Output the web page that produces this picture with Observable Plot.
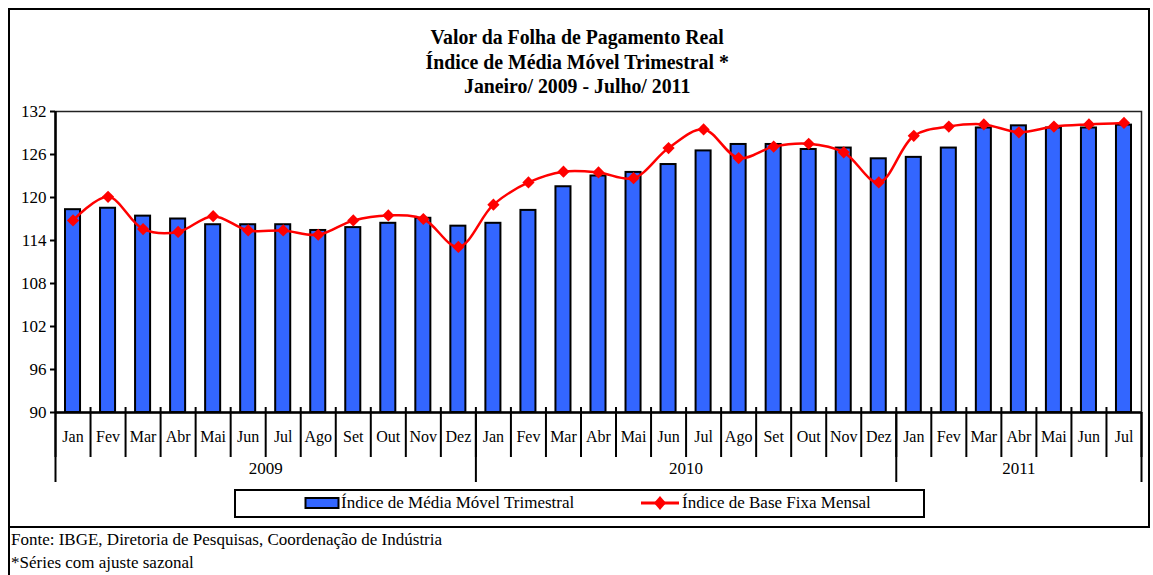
<!DOCTYPE html>
<html>
<head>
<meta charset="utf-8">
<script src="https://cdn.jsdelivr.net/npm/d3@7"></script>
<script src="https://cdn.jsdelivr.net/npm/@observablehq/plot@0.6"></script>
<style>
  html, body { margin: 0; padding: 0; background: #fff; }
  #wrap { position: relative; width: 1153px; height: 575px; overflow: hidden; font-family: "Liberation Serif", "Times New Roman", serif; color: #000; }
  #wrap svg.plot { position: absolute; left: 0; top: 0; }
  .frame { position: absolute; left: 8px; top: 8px; width: 1138px; height: 516px; border: 2px solid #000; }
  .leftline { position: absolute; left: 8px; top: 526px; width: 2px; height: 49px; background: #000; }
  .title { position: absolute; left: 0; width: 1153px; top: 25px; text-align: center; font-weight: bold; font-size: 22px; line-height: 24.5px; transform: scaleX(0.9); transform-origin: 583px 0; }
  .legend { position: absolute; left: 234px; top: 489px; width: 687px; height: 25px; border: 2px solid #000; background: #fff; font-size: 17px; }
  .legend .item { position: absolute; top: 2px; display: flex; align-items: center; white-space: nowrap; }
  .foot { position: absolute; left: 11px; font-size: 17px; white-space: nowrap; }
</style>
</head>
<body>
<div id="wrap">
  <div class="frame"></div>
  <div class="leftline"></div>
  <div class="title">Valor da Folha de Pagamento Real<br>Índice de Média Móvel Trimestral *<br>Janeiro/ 2009 - Julho/ 2011</div>
  <div class="legend">
    <div class="item" style="left:68px;"><svg width="36" height="14" style="margin-right:1px"><rect x="1.5" y="2" width="33" height="10" fill="#3366ff" stroke="#000" stroke-width="2"/></svg>Índice de Média Móvel Trimestral</div>
    <div class="item" style="left:404px;"><svg width="40" height="16" style="margin-right:2px"><line x1="1" y1="8" x2="39" y2="8" stroke="#ff0000" stroke-width="3"/><path d="M20,1 L26,8 L20,15 L14,8 Z" fill="#ff0000"/></svg>Índice de Base Fixa Mensal</div>
  </div>
  <div class="foot" style="top:530px;">Fonte: IBGE, Diretoria de Pesquisas, Coordenação de Indústria</div>
  <div class="foot" style="top:553px;">*Séries com ajuste sazonal</div>
</div>
<script>
const months = ["Jan","Fev","Mar","Abr","Mai","Jun","Jul","Ago","Set","Out","Nov","Dez"];
const years = ["2009","2010","2011"];
const yTicks = [90, 96, 102, 108, 114, 120, 126, 132];

// Índice de Média Móvel Trimestral (bars)
const mediaMovel = [
  118.3, 118.5, 117.4, 117.0, 116.2, 116.2, 116.2, 115.4, 115.8, 116.4, 117.1, 116.0,
  116.4, 118.2, 121.5, 123.0, 123.5, 124.6, 126.5, 127.4, 127.4, 126.7, 126.9, 125.4,
  125.6, 126.9, 129.7, 130.0, 129.7, 129.7, 130.1
];
// Índice de Base Fixa Mensal (line)
const baseFixa = [
  116.8, 120.1, 115.6, 115.2, 117.4, 115.4, 115.4, 114.8, 116.8, 117.5, 117.0, 113.1,
  119.0, 122.1, 123.6, 123.5, 122.7, 126.9, 129.5, 125.5, 127.1, 127.5, 126.3, 122.1,
  128.6, 129.9, 130.2, 129.1, 129.9, 130.2, 130.4
];

const data = mediaMovel.map((v, i) => ({
  i, month: months[i % 12], year: years[Math.floor(i / 12)], mm: v, bf: baseFixa[i]
}));
const n = data.length;
const bounds = d3.range(0, n + 1);
const yearBounds = years.map(y => data.find(d => d.year === y).i).concat([n]);
const yearCenters = years.map((y, k) => (yearBounds[k] + yearBounds[k + 1]) / 2);
const centers = data.map(d => d.i + 0.5);

const W = 1153, H = 575, mL = 55, mR = 12, mT = 111, mB = 163;
const innerH = H - mT - mB;

const chart = Plot.plot({
  width: W, height: H,
  marginLeft: mL, marginRight: mR, marginTop: mT, marginBottom: mB,
  style: { fontFamily: "Liberation Serif, Times New Roman, serif", fontSize: "16px", color: "#000", background: "transparent", overflow: "visible" },
  x: { domain: [0, n], axis: null, label: null },
  y: { domain: [90, 132], axis: null, label: null },
  marks: [
    Plot.rect(data, { x1: "i", x2: d => d.i + 1, y1: 90, y2: "mm", insetLeft: 10, insetRight: 10, fill: "#3366ff", stroke: "#000", strokeWidth: 2 }),
    Plot.frame({ stroke: "#222", strokeWidth: 1.5 }),
    Plot.axisY(yTicks, { tickSize: 5, tickPadding: 4, strokeWidth: 2, fontSize: 17, tickFormat: d => d, label: null }),
    Plot.ruleX([0], { stroke: "#000", strokeWidth: 2.5 }),
    Plot.ruleY([90], { stroke: "#000", strokeWidth: 2.5 }),
    Plot.ruleX(d3.range(1, n), { stroke: "#000", strokeWidth: 2, insetTop: innerH - 5 }),
    Plot.axisX(bounds, { tickSize: 45, strokeWidth: 2, tickFormat: () => "", label: null }),
    Plot.axisX(yearBounds, { tickSize: 70, strokeWidth: 2, tickFormat: () => "", label: null }),
    Plot.axisX(centers, { tickSize: 0, tickPadding: 18, tickFormat: c => data[Math.floor(c)].month, label: null }),
    Plot.axisX(yearCenters, { tickSize: 0, tickPadding: 49, fontSize: 17, tickFormat: c => years[yearCenters.indexOf(c)], label: null }),
    Plot.line(data, { x: d => d.i + 0.5, y: "bf", curve: "catmull-rom", stroke: "#ff0000", strokeWidth: 2.5 }),
    Plot.dot(data, { x: d => d.i + 0.5, y: "bf", symbol: "diamond2", r: 5.5, fill: "#ff0000", stroke: "none" })
  ]
});
chart.classList.add("plot");
document.getElementById("wrap").insertBefore(chart, document.querySelector(".legend"));
</script>
</body>
</html>
